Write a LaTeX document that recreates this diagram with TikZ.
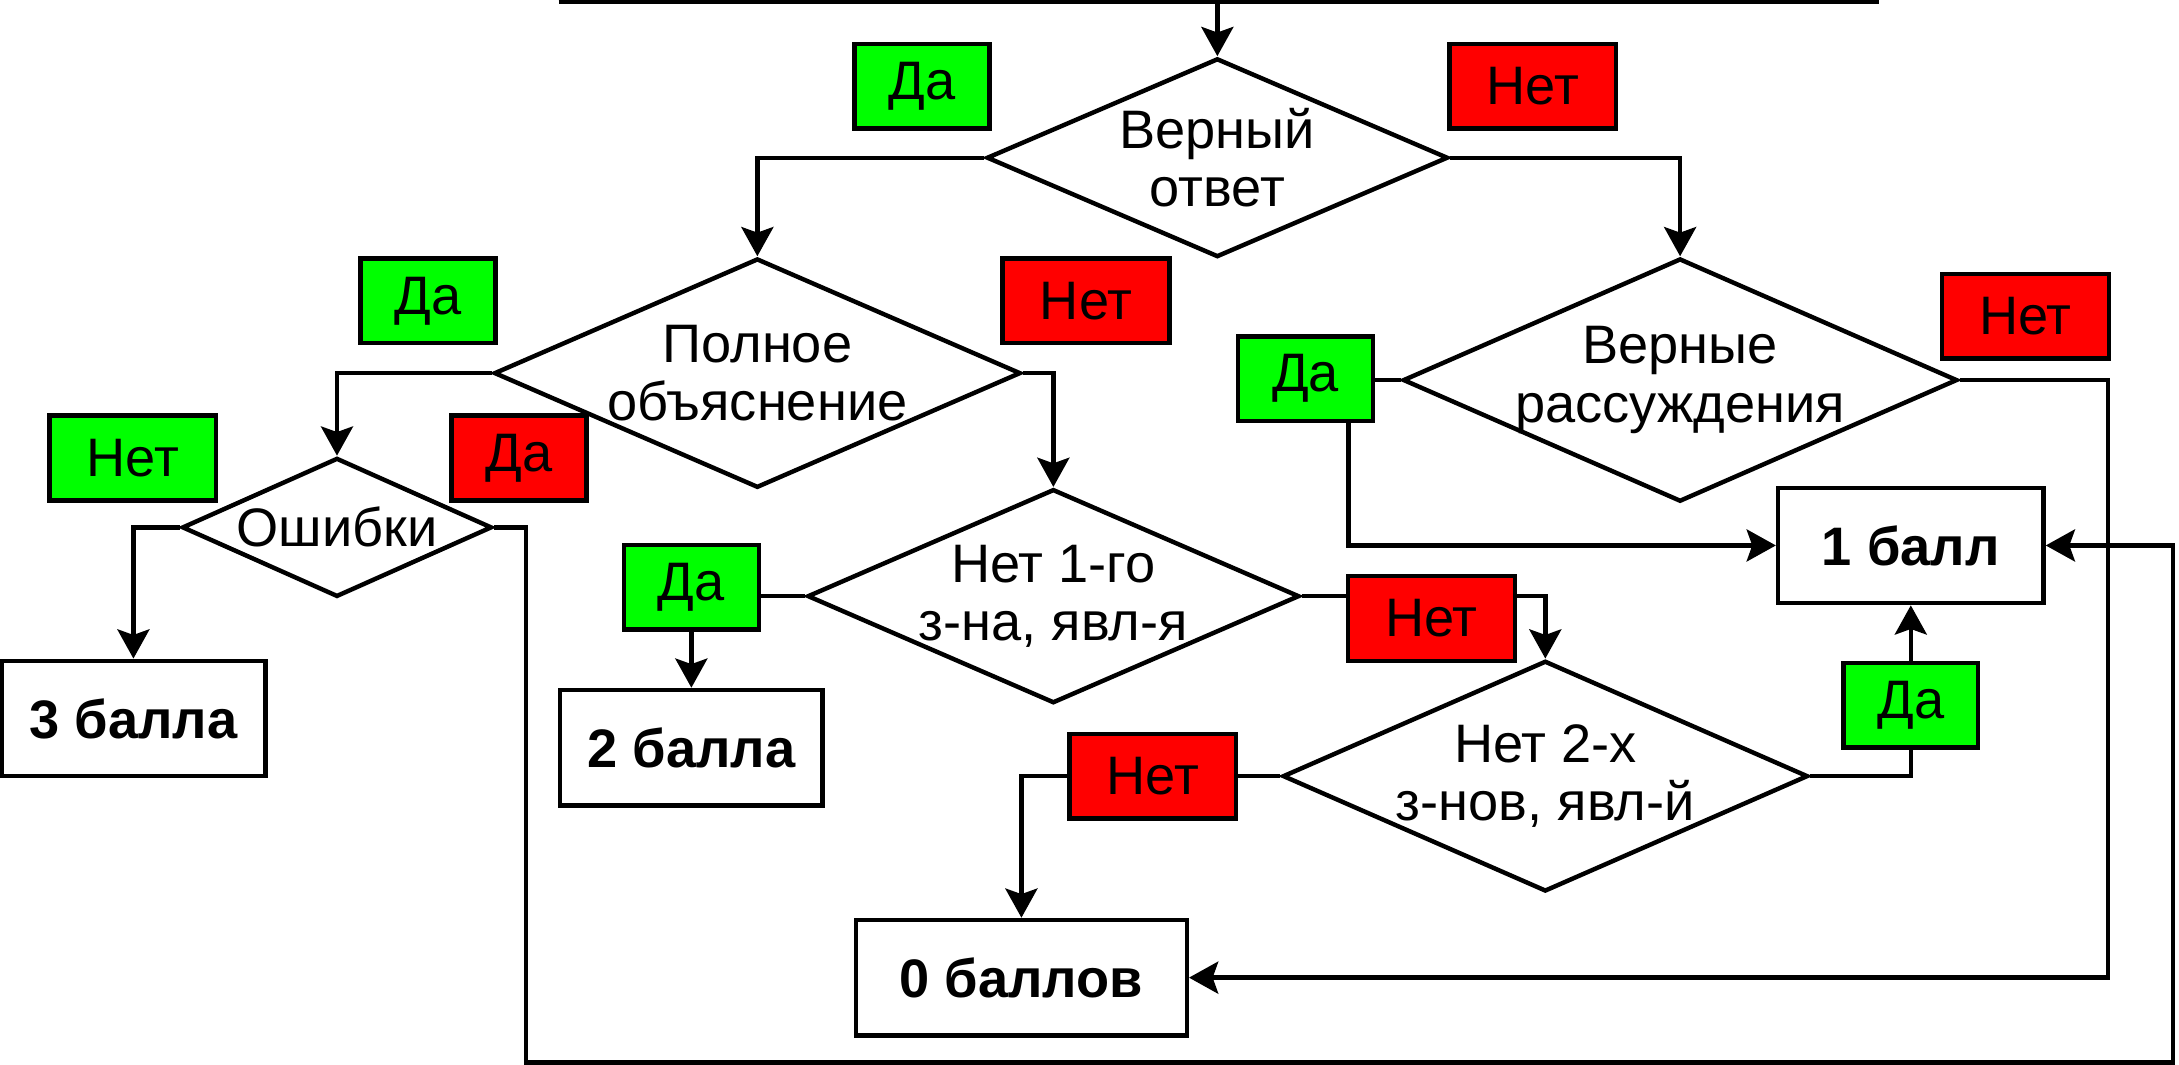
\documentclass[tikz,border=0pt]{standalone}
\usepackage{fontspec}
\setmainfont{Liberation Sans}
\usetikzlibrary{shapes.geometric,arrows.meta}
\definecolor{yesgreen}{RGB}{0,255,0}
\definecolor{nored}{RGB}{255,0,0}
\begin{document}
\begin{tikzpicture}[x=0.5pt,y=-0.5pt,
  every node/.style={font=\fontsize{19.5}{21}\selectfont},
  ln/.style={line width=1.6pt},
  arr/.style={line width=1.6pt,-{Stealth[length=10.5pt,width=11.5pt,inset=2pt]}},
  dec/.style={diamond,draw,line width=1.6pt,inner sep=0pt},
  dtxt/.style={align=center,inner sep=0pt},
  lbox/.style={draw,line width=1.6pt,minimum height=30.5pt,inner sep=0pt},
  gbox/.style={lbox,fill=yesgreen},
  rbox/.style={lbox,fill=nored},
  wda/.style={minimum width=48.5pt},
  wnet/.style={minimum width=60pt},
  res/.style={draw,line width=1.6pt,minimum height=41.5pt,inner sep=0pt,font=\fontsize{19.5}{21}\selectfont\bfseries}
]
\useasboundingbox (0,0) rectangle (1568,766);

% free ends of the incoming line
\coordinate (tL) at (402,1.6);
\coordinate (tR) at (1352,1.6);
\coordinate (tM) at (876,1.6);

% decisions
\node[dec,minimum width=166pt,minimum height=71.5pt,label={[dtxt]center:Верный\\ответ}] (D1) at (876,113.5) {};
\node[dec,minimum width=189.5pt,minimum height=82.5pt,label={[dtxt]center:Полное\\объяснение}] (D2) at (545,268.5) {};
\node[dec,minimum width=199.5pt,minimum height=87.5pt,label={[dtxt]center:Верные\\рассуждения}] (D3) at (1209,273.5) {};
\node[dec,minimum width=111.5pt,minimum height=50pt,label={[dtxt]center:Ошибки}] (D0) at (242.5,379.5) {};
\node[dec,minimum width=177pt,minimum height=77pt,label={[dtxt]center:Нет 1-го\\з-на, явл-я}] (D4) at (758,429) {};
\node[dec,minimum width=189pt,minimum height=83pt,label={[dtxt]center:Нет 2-х\\з-нов, явл-й}] (D5) at (1112,558.5) {};

% results
\node[res,minimum width=95pt] (R3) at (96,517) {3 балла};
\node[res,minimum width=94.5pt] (R2) at (497.5,538) {2 балла};
\node[res,minimum width=95.5pt] (R1) at (1375,392.5) {1 балл};
\node[res,minimum width=119pt] (R0) at (735,703.5) {0 баллов};

% yes / no labels
\node[gbox,wda] (Y1) at (663.5,62) {Да};
\node[rbox,wnet] (N1) at (1103,62) {Нет};
\node[gbox,wda] (Y2) at (308,216.5) {Да};
\node[rbox,wnet] (N2) at (781.5,216.5) {Нет};
\node[gbox,wda] (Y3) at (939.5,272.5) {Да};
\node[rbox,wnet] (N3) at (1457.5,227.5) {Нет};
\node[gbox,wnet] (N4) at (95.5,329.5) {Нет};
\node[rbox,wda] (Y4) at (373.5,329.5) {Да};
\node[gbox,wda] (Y5) at (497.5,422.5) {Да};
\node[rbox,wnet] (N5) at (1030,445) {Нет};
\node[rbox,wnet] (N6) at (829.5,558.5) {Нет};
\node[gbox,wda] (Y6) at (1375,507.5) {Да};

% bend points
\coordinate (b1) at (378.5,764.5);
\coordinate (b2) at (1563.5,764.5);
\coordinate (b3) at (1517,703.5);

% connectors
\draw[ln] (tL) -- (tR);
\draw[arr] (tM) -- (D1.north);
\draw[arr] (D1.west) -| (D2.north);
\draw[arr] (D1.east) -| (D3.north);
\draw[arr] (D2.west) -| (D0.north);
\draw[arr] (D2.east) -| (D4.north);
\draw[arr] (D0.west) -| (R3.north);
\draw[arr] (D0.east) -| (b1) -- (b2) |- (R1.east);
\draw[ln] (D3.west) -- (D3.west -| Y3.east);
\draw[arr] ([xshift=15.5pt]Y3.south) |- (R1.west);
\draw[arr] (D3.east) -| (b3) -- (R0.east);
\draw[ln] (D4.west) -- (D4.west -| Y5.east);
\draw[arr] (Y5.south) -- (R2.north);
\draw[ln] (D4.east) -- (D4.east -| N5.west);
\draw[arr] (D4.east -| N5.east) -| (D5.north);
\draw[ln] (D5.west) -- (D5.west -| N6.east);
\draw[arr] (N6.west) -| (R0.north);
\draw[ln] (D5.east) -| (Y6.south);
\draw[arr] (Y6.north) -- (R1.south);
\end{tikzpicture}
\end{document}
